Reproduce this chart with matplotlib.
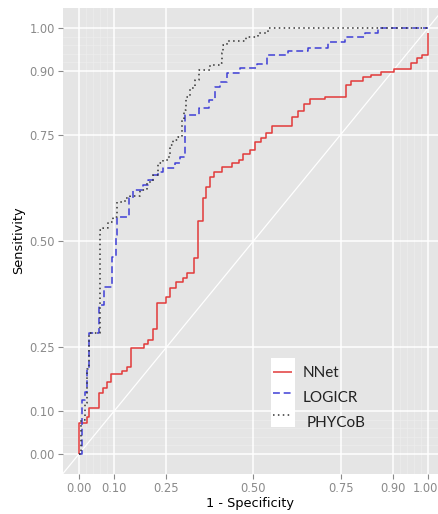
import matplotlib
matplotlib.use("Agg")
import matplotlib.pyplot as plt
import matplotlib.transforms as mtransforms
from matplotlib.lines import Line2D
from matplotlib.patches import Rectangle

# ---- data ----
tick_values = [0.00, 0.10, 0.25, 0.50, 0.75, 0.90, 1.00]
tick_labels = ["0.00", "0.10", "0.25", "0.50", "0.75", "0.90", "1.00"]
minor_values = [0.02, 0.04, 0.06, 0.08, 0.92, 0.94, 0.96, 0.98]

series_names = ["NNet", "LOGICR", "PHYCoB"]

nnet_fpr = [0.0, 0.0, 0.023, 0.030, 0.057, 0.069, 0.080, 0.092, 0.123, 0.138,
            0.149, 0.186, 0.198, 0.212, 0.223, 0.249, 0.261, 0.278, 0.298, 0.309,
            0.330, 0.341, 0.355, 0.364, 0.375, 0.387, 0.410, 0.438, 0.458, 0.470,
            0.490, 0.504, 0.521, 0.536, 0.553, 0.610, 0.628, 0.645, 0.662, 0.705,
            0.765, 0.779, 0.814, 0.837, 0.865, 0.903, 0.951, 0.968, 0.983, 1.0]
nnet_tpr = [0.0, 0.073, 0.087, 0.108, 0.143, 0.155, 0.169, 0.188, 0.195, 0.204,
            0.249, 0.258, 0.268, 0.293, 0.354, 0.369, 0.390, 0.404, 0.413, 0.425,
            0.460, 0.547, 0.601, 0.627, 0.650, 0.662, 0.674, 0.683, 0.690, 0.704,
            0.714, 0.732, 0.742, 0.753, 0.770, 0.791, 0.805, 0.822, 0.833, 0.838,
            0.866, 0.876, 0.885, 0.890, 0.897, 0.904, 0.918, 0.930, 0.937, 0.988]

logicr_fpr = [0.0, 0.009, 0.017, 0.023, 0.029, 0.057, 0.072, 0.095, 0.106, 0.109,
              0.143, 0.155, 0.183, 0.198, 0.212, 0.226, 0.241, 0.275, 0.289, 0.304,
              0.345, 0.372, 0.390, 0.404, 0.424, 0.461, 0.510, 0.540, 0.600, 0.656,
              0.713, 0.762, 0.819, 0.857, 1.0]
logicr_tpr = [0.0, 0.127, 0.146, 0.200, 0.284, 0.350, 0.392, 0.462, 0.514, 0.556,
              0.600, 0.620, 0.631, 0.643, 0.655, 0.662, 0.671, 0.683, 0.697, 0.796,
              0.812, 0.831, 0.862, 0.873, 0.894, 0.906, 0.916, 0.937, 0.945, 0.953,
              0.967, 0.979, 0.988, 1.0, 1.0]

phycob_fpr = [0.0, 0.006, 0.017, 0.023, 0.029, 0.060, 0.069, 0.083, 0.097, 0.109,
              0.132, 0.146, 0.175, 0.195, 0.212, 0.226, 0.241, 0.255, 0.261, 0.270,
              0.284, 0.295, 0.300, 0.307, 0.318, 0.332, 0.344, 0.375, 0.404, 0.410,
              0.413, 0.424, 0.479, 0.513, 0.542, 1.0]
phycob_tpr = [0.0, 0.080, 0.120, 0.200, 0.284, 0.526, 0.530, 0.545, 0.556, 0.592,
              0.601, 0.605, 0.620, 0.638, 0.655, 0.683, 0.690, 0.697, 0.725, 0.737,
              0.744, 0.784, 0.808, 0.838, 0.859, 0.878, 0.901, 0.913, 0.918, 0.941,
              0.960, 0.970, 0.979, 0.988, 1.0, 1.0]

# ---- styles ----
colors = ["#E23A3A", "#3F3FD6", "#333333"]
styles = [(0, ()), (0, (4.5, 2.5)), (0, (1, 2.2))]

fig = plt.figure(figsize=(4.38, 5.14), dpi=100)
W, H = 438, 514
ax = fig.add_axes([63 / W, 1 - 474 / H, 375 / W, 466 / H])
ax.set_facecolor("#E5E5E5")
for s in ax.spines.values():
    s.set_visible(False)

ax.set_xlim(-0.0458, 1.0287)
ax.set_ylim(-0.047, 1.047)

# grid
for v in minor_values:
    ax.axvline(v, color="#EDEDED", lw=0.5, zorder=0.5)
    ax.axhline(v, color="#EDEDED", lw=0.5, zorder=0.5)
for v in tick_values:
    ax.axvline(v, color="white", lw=1.1, zorder=0.6)
    ax.axhline(v, color="white", lw=1.1, zorder=0.6)

ax.axline((0, 0), (1, 1), color="white", lw=0.9, zorder=0.7)

data = [(nnet_fpr, nnet_tpr), (logicr_fpr, logicr_tpr), (phycob_fpr, phycob_tpr)]
for (fx_, fy_), c, ls, name in zip(data, colors, styles, series_names):
    ax.plot(fx_, fy_, drawstyle="steps-post", color=c, linestyle=ls, lw=1.1,
            zorder=2, label=name)

ax.set_xticks(tick_values)
ax.set_xticklabels(tick_labels)
ax.set_yticks(tick_values)
ax.set_yticklabels(tick_labels)
ax.tick_params(axis="both", colors="#8A8A8A", labelcolor="#8A8A8A",
               length=3.5, width=0.8, labelsize=8.3, pad=2.5)
for lab in ax.get_xticklabels() + ax.get_yticklabels():
    lab.set_family("DejaVu Sans")
# keep the last x tick label inside the figure edge
last = ax.get_xticklabels()[-1]
last.set_transform(last.get_transform() +
                   mtransforms.ScaledTranslation(-3 / 100, 0, fig.dpi_scale_trans))

fig.text(250 / W, 1 - 503 / H, "1 - Specificity", ha="center", va="center",
         fontsize=9.3, family="DejaVu Sans", color="black")
fig.text(19 / W, 1 - 240 / H, "Sensitivity", ha="center", va="center",
         rotation=90, fontsize=9.3, family="DejaVu Sans", color="black")

# legend (drawn manually to match the reference layout)
def fx(X):
    return (X - 63) / 375


def fy(Y):
    return (474 - Y) / 466


ax.add_patch(Rectangle((fx(271), fy(427)), fx(295) - fx(271), fy(358) - fy(427),
                       transform=ax.transAxes, facecolor="white",
                       edgecolor="none", zorder=3))
key_y = [372, 393, 415]
lab_y = [373, 397.5, 423]
lab_x = [303, 303, 307]
for c, ls, ky, ly, lx, name in zip(colors, styles, key_y, lab_y, lab_x, series_names):
    ax.add_line(Line2D([fx(273), fx(292)], [fy(ky), fy(ky)], transform=ax.transAxes,
                       color=c, linestyle=ls, lw=1.1, zorder=4))
    ax.text(fx(lx), fy(ly), name, transform=ax.transAxes, ha="left", va="center",
            fontsize=11, family="Lato", color="#222222", zorder=4)

fig.savefig("out.png", dpi=100)
